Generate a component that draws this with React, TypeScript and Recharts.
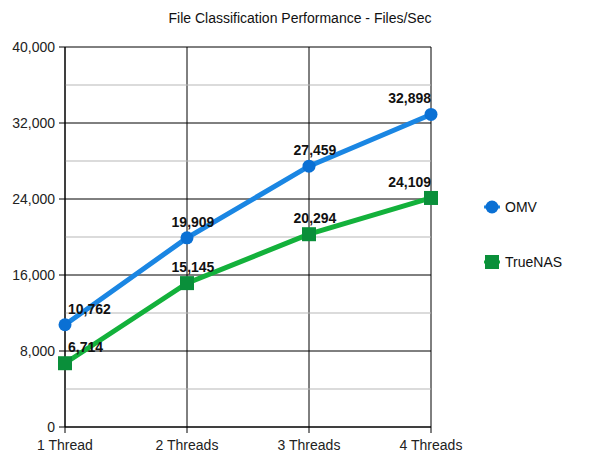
import { CartesianGrid, LabelList, Legend, Line, LineChart, ReferenceLine, XAxis, YAxis } from "recharts"

const threads = ["1 Thread", "2 Threads", "3 Threads", "4 Threads"]
const omv = [10762, 19909, 27459, 32898]
const truenas = [6714, 15145, 20294, 24109]
const majorTicks = [0, 8000, 16000, 24000, 32000, 40000]
const minorTicks = [4000, 12000, 20000, 28000, 36000]

const data = threads.map((name, i) => ({ name, omv: omv[i], truenas: truenas[i] }))

const FONT = '"Liberation Sans", Arial, sans-serif'
const BLUE = "#1a86e3"
const BLUE_DOT = "#0a70d4"
const GREEN = "#13b13b"
const GREEN_DOT = "#0a8f3a"

const fmt = (v: number) => v.toLocaleString("en-US")

function PointLabel(props: any) {
  const { x, y, value, index } = props
  let anchor: "start" | "middle" | "end" = "middle"
  let dx = 6
  if (index === 0) { anchor = "start"; dx = 3 }
  if (index === threads.length - 1) { anchor = "end"; dx = 0 }
  return (
    <text x={x + dx} y={y - 11} textAnchor={anchor} fontSize={14} fontWeight="bold" fill="#111" fontFamily={FONT}>
      {fmt(value)}
    </text>
  )
}

function SquareDot(props: any) {
  const { cx, cy } = props
  if (cx == null || cy == null) return null
  return <rect x={cx - 7} y={cy - 7} width={14} height={14} fill={GREEN_DOT} />
}

function LegendBox() {
  return (
    <div style={{ fontFamily: FONT, fontSize: 14, color: "#111" }}>
      <div style={{ display: "flex", alignItems: "center", height: 20 }}>
        <svg width={20} height={16} style={{ marginRight: 2 }}>
          <line x1={1} y1={8} x2={17} y2={8} stroke={BLUE} strokeWidth={3} />
          <circle cx={9} cy={8} r={6.5} fill={BLUE_DOT} />
        </svg>
        OMV
      </div>
      <div style={{ display: "flex", alignItems: "center", height: 20, marginTop: 35 }}>
        <svg width={20} height={16} style={{ marginRight: 2 }}>
          <line x1={1} y1={8} x2={17} y2={8} stroke={GREEN} strokeWidth={3} />
          <rect x={2} y={1} width={14} height={14} fill={GREEN_DOT} />
        </svg>
        TrueNAS
      </div>
    </div>
  )
}

export default function App() {
  return (
    <div style={{ position: "absolute", left: 0, top: 0, width: 600, height: 463, background: "#fff" }}>
      <div style={{ position: "absolute", top: 10, left: 0, width: 600, textAlign: "center", fontFamily: FONT, fontSize: 14, lineHeight: "16px", color: "#111" }}>
        File Classification Performance - Files/Sec
      </div>
      <LineChart width={600} height={463} data={data} margin={{ top: 47, right: 169, bottom: 0, left: 0 }}>
        <CartesianGrid horizontal={false} stroke="#000" strokeWidth={1} />
        {minorTicks.map((t) => (
          <ReferenceLine key={"m" + t} y={t} stroke="#b7b7b7" strokeWidth={1} />
        ))}
        {majorTicks.map((t) => (
          <ReferenceLine key={"M" + t} y={t} stroke="#000" strokeWidth={1} />
        ))}
        <XAxis
          dataKey="name"
          height={36}
          tickSize={6}
          tickMargin={7}
          stroke="#000"
          tick={{ fill: "#222", fontSize: 14, fontFamily: FONT }}
        />
        <YAxis
          width={65}
          domain={[0, 40000]}
          ticks={majorTicks}
          tickFormatter={fmt}
          tickSize={6}
          tickMargin={4}
          stroke="#000"
          tick={{ fill: "#222", fontSize: 14, fontFamily: FONT }}
        />
        <Legend
          layout="horizontal"
          align="center"
          verticalAlign="middle"
          wrapperStyle={{ top: 197, left: 483, width: 110 }}
          content={() => <LegendBox />}
        />
        <Line
          dataKey="omv"
          name="OMV"
          stroke={BLUE}
          strokeWidth={5}
          dot={{ r: 6.5, fill: BLUE_DOT, stroke: "none" }}
          activeDot={false}
          isAnimationActive={false}
        >
          <LabelList dataKey="omv" content={PointLabel} />
        </Line>
        <Line
          dataKey="truenas"
          name="TrueNAS"
          stroke={GREEN}
          strokeWidth={5}
          dot={<SquareDot />}
          activeDot={false}
          isAnimationActive={false}
        >
          <LabelList dataKey="truenas" content={PointLabel} />
        </Line>
      </LineChart>
    </div>
  )
}
